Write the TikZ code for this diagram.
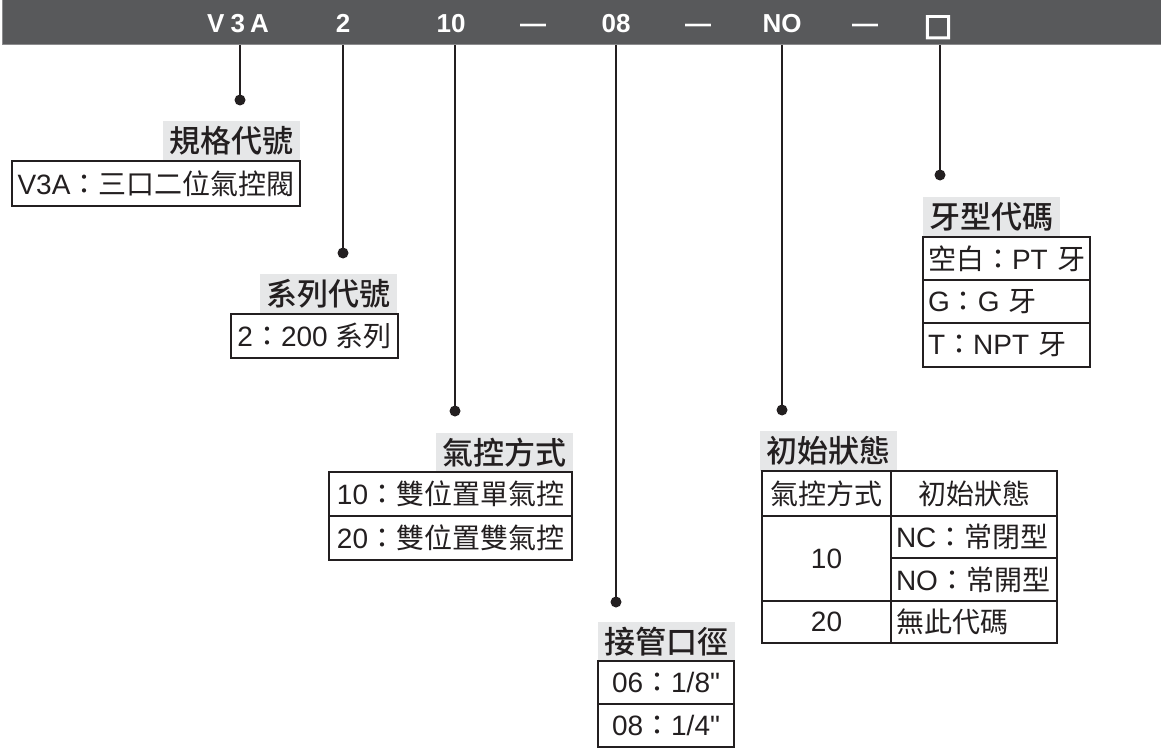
\documentclass[tikz,border=0pt]{standalone}
\usepackage{fontspec}
\setmainfont{Liberation Sans}[Ligatures=TeXOff]
\newfontfamily\cjk[Scale=1.0]{Noto Sans CJK TC}
\newfontfamily\cjkt{Noto Sans CJK TC Medium}
\newfontfamily\symf[FakeBold=4]{DejaVu Sans}
\newcommand\C[1]{{\cjk #1}}
\definecolor{barg}{HTML}{58595B}
\definecolor{barb}{HTML}{8C8C8E}
\definecolor{ink}{HTML}{231F20}
\definecolor{ttlg}{HTML}{E6E7E8}
\tikzset{
  conn/.style={draw=ink, line width=2pt},
  dotc/.style={circle, fill=ink, inner sep=0pt, minimum size=11pt},
  bartxt/.style={anchor=base, text=white, font=\fontsize{26}{28}\selectfont\bfseries, inner sep=0pt},
  ttl/.style={fill=ttlg, minimum width=137pt, minimum height=40pt, inner sep=0pt, font=\fontsize{31}{34}\selectfont\cjkt, text=ink},
  cellbox/.style={draw=ink, line width=1.6pt, inner sep=0pt, font=\fontsize{28}{30}\selectfont, text=ink, align=center},
  cellleft/.style={cellbox, inner xsep=5pt, align=left}
}
\begin{document}
\begin{tikzpicture}[x=1pt,y=-1pt]
\useasboundingbox (0,0) rectangle (1161,749);
% bar
\node[fill=barg, draw=barb, line width=1pt, minimum width=1160pt, minimum height=45pt, inner sep=0pt] (bar) at (582,22.5) {};
\node[bartxt] (b1) at (238,33) {V\hspace{6pt}3\hspace{5pt}A};
\node[bartxt] (b2) at (343,33) {2};
\node[bartxt] (b3) at (451,33) {10};
\node[bartxt] (m1) at (533,33) {—};
\node[bartxt] (b4) at (616,33) {08};
\node[bartxt] (m2) at (698,33) {—};
\node[bartxt] (b5) at (782,33) {NO};
\node[bartxt] (m3) at (865,33) {—};
\node[bartxt, font=\fontsize{30}{32}\selectfont\symf] (b6) at (938,35) {□};
% dots
\node[dotc] (d1) at (240,100) {};
\node[dotc] (d2) at (343,253) {};
\node[dotc] (d3) at (455,411) {};
\node[dotc] (d4) at (616,602) {};
\node[dotc] (d5) at (782,410) {};
\node[dotc] (d6) at (940,175) {};
\foreach \i in {1,...,6} \draw[conn] (d\i |- bar.south) -- (d\i.center);
% group 1
\node[ttl] (t1) at (231,141) {規格代號};
\node[cellbox, minimum width=288pt, minimum height=45pt] (c1) at (156,183.5) {V3A\C{：三口二位氣控閥}};
% group 2
\node[ttl] (t2) at (328.5,293.5) {系列代號};
\node[cellbox, minimum width=167pt, minimum height=44pt] (c2) at (314.5,336) {2\C{：}200 \C{系列}};
% group 3
\node[ttl] (t3) at (504,452.5) {氣控方式};
\node[cellbox, minimum width=243pt, minimum height=44pt] (c3a) at (450.5,494) {10\C{：雙位置單氣控}};
\node[cellbox, minimum width=243pt, minimum height=44pt] (c3b) at (450.5,538) {20\C{：雙位置雙氣控}};
% group 4
\node[ttl] (t4) at (666.5,641.5) {接管口徑};
\node[cellbox, minimum width=136pt, minimum height=43pt] (c4a) at (666,682.5) {06\C{：}1/8"};
\node[cellbox, minimum width=136pt, minimum height=43pt] (c4b) at (666,725.5) {08\C{：}1/4"};
% group 5
\node[ttl] (t5) at (828.5,451) {初始狀態};
\node[cellbox, minimum width=129pt, minimum height=45pt] (h1) at (826.5,493.5) {\C{氣控方式}};
\node[cellbox, minimum width=166pt, minimum height=45pt] (h2) at (974,493.5) {\C{初始狀態}};
\node[cellbox, minimum width=129pt, minimum height=85pt] (r1) at (826.5,558.5) {10};
\node[cellleft, text width=156pt, minimum height=42pt] (r1a) at (974,537) {\mbox{NC\C{：常閉型}}};
\node[cellleft, text width=156pt, minimum height=43pt] (r1b) at (974,579.5) {\mbox{NO\C{：常開型}}};
\node[cellbox, minimum width=129pt, minimum height=42pt] (r2) at (826.5,622) {20};
\node[cellleft, text width=156pt, minimum height=42pt] (r2a) at (974,622) {\mbox{\C{無此代碼}}};
% group 6
\node[ttl] (t6) at (991,217) {牙型代碼};
\node[cellleft, text width=157pt, minimum height=43pt] (c6a) at (1006.5,258.5) {\mbox{\C{空白：}PT \C{牙}}};
\node[cellleft, text width=157pt, minimum height=43pt] (c6b) at (1006.5,301.5) {\mbox{G\C{：}G \C{牙}}};
\node[cellleft, text width=157pt, minimum height=44pt] (c6c) at (1006.5,345) {\mbox{T\C{：}NPT \C{牙}}};
\end{tikzpicture}
\end{document}
